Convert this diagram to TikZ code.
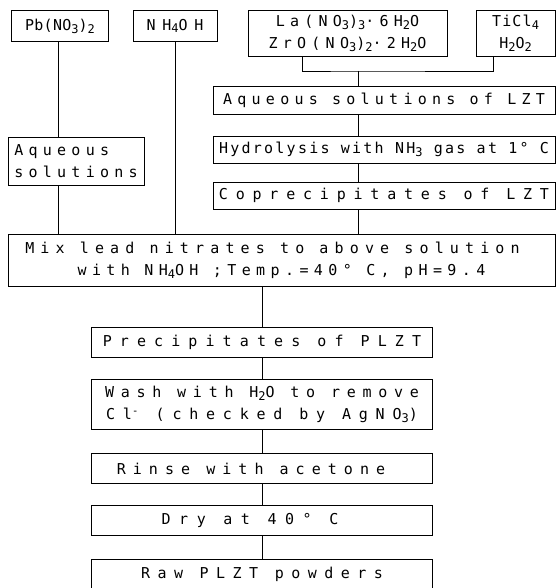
\documentclass[tikz,border=0pt]{standalone}
\usepackage{fontspec}
\newfontfamily\plotter{DejaVu Sans Mono}
\usepackage{tikz}
\usetikzlibrary{positioning}
\newcommand\ls[1]{\addfontfeature{LetterSpace=#1}}
\newcommand\sub[1]{\raisebox{-0.35ex}{\fontsize{12}{12}\selectfont #1}}

\begin{document}
\begin{tikzpicture}[
  x=1pt, y=-1pt,
  font=\plotter\fontsize{15}{22}\selectfont,
  box/.style={draw, line width=0.8pt, inner sep=0pt, align=center, minimum width=341pt, minimum height=30pt},
  lzt/.style={box, minimum width=342pt, minimum height=27pt},
  line/.style={line width=0.7pt}
]
\useasboundingbox (0,0) rectangle (557,588);
% starting materials
\node[box, minimum width=97pt, minimum height=31pt] (pb) at (60,26) {\ls{2}Pb(NO\sub{3})\sub{2}};
\node[box, minimum width=84pt, minimum height=31pt] (nh) at (175,26) {\ls{45}NH\sub{4}OH};
\node[box, minimum width=199pt, minimum height=46pt] (la) at (347.5,33) {\ls{35}La(NO\sub{3})\sub{3}·6H\sub{2}O\\\ls{35}ZrO(NO\sub{3})\sub{2}·2H\sub{2}O};
\node[box, minimum width=79pt, minimum height=46pt] (ti) at (515.5,33) {\ls{8}TiCl\sub{4}\\\ls{8}H\sub{2}O\sub{2}};
% LZT branch
\node[lzt, minimum height=28pt] (aqlzt) at (384,100) {\ls{35}Aqueous solutions of LZT};
\node[lzt, below=21.5pt of aqlzt] (hyd) {\ls{15}Hydrolysis with NH\sub{3} gas at 1° C};
\node[lzt, below=18pt of hyd] (cop) {\ls{52}Coprecipitates of LZT};
\coordinate (drop) at (358,71);
% lead branch
\node[box, minimum width=136pt, minimum height=48pt, align=left] (aq) at (76,161) {\ls{35}Aqueous\\\ls{35}solutions};
% main line
\node[box, minimum width=547pt, minimum height=52pt] (mix) at (281.5,260) {\ls{41}Mix lead nitrates to above solution\hspace*{18pt}\\\ls{36}with NH\sub{4}OH ;Temp.=40° C, pH=9.4};
\node[box] (prec) at (262,342) {\ls{54}Precipitates of PLZT};
\node[box, minimum height=50pt, below=22pt of prec] (wash) {\ls{45}Wash with H\sub{2}O to remove\\\ls{52}Cl\textsuperscript{-} (checked by AgNO\sub{3})};
\node[box, below=23pt of wash] (rinse) {\ls{47}Rinse with acetone\hspace*{22pt}};
\node[box, minimum height=30pt, below=21pt of rinse] (dry) {\ls{57}Dry at 40° C\hspace*{24pt}};
\node[box, below=23pt of dry] (raw) {\ls{50}Raw PLZT powders};
% connectors
\draw[line] ([xshift=-45.5pt]la.south) |- (drop) -| ([xshift=-22.5pt]ti.south);
\draw[line] (drop) -- (drop |- aqlzt.north);
\draw[line] (aqlzt.south -| drop) -- (hyd.north -| drop);
\draw[line] (hyd.south -| drop) -- (cop.north -| drop);
\draw[line] (cop.south -| drop) -- (mix.north -| drop);
\draw[line] ([xshift=-2pt]pb.south) -- ([xshift=-2pt]pb.south |- aq.north);
\draw[line] ([xshift=-2pt]pb.south |- aq.south) -- ([xshift=-2pt]pb.south |- mix.north);
\draw[line] (nh.south) -- (nh.south |- mix.north);
\draw[line] (mix.south -| prec.north) -- (prec.north);
\draw[line] (prec) -- (wash);
\draw[line] (wash) -- (rinse);
\draw[line] (rinse) -- (dry);
\draw[line] (dry) -- (raw);
\end{tikzpicture}
\end{document}
